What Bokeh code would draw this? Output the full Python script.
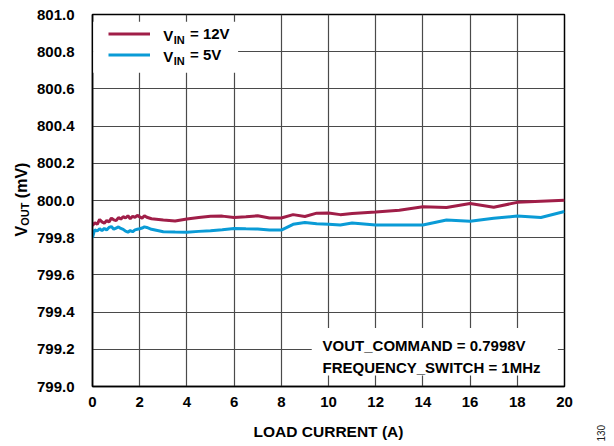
import numpy as np
from bokeh.plotting import figure
from bokeh.layouts import row
from bokeh.models import (FixedTicker, PrintfTickFormatter, Label, BoxAnnotation, Range1d,
                          Legend, LegendItem, Title)
from bokeh.embed import file_html
from bokeh.resources import INLINE

# ---------------- data ----------------
x_12v = [0, 0.1, 0.2, 0.3, 0.4, 0.5, 0.6, 0.7, 0.8, 0.9, 1.0, 1.1, 1.2, 1.3, 1.4, 1.5,
         1.6, 1.7, 1.8, 1.9, 2.0, 2.1, 2.2, 2.3, 2.5, 3.0, 3.5, 4.0, 4.5, 5.0, 5.5, 6.0,
         6.5, 7.0, 7.5, 8.0, 8.5, 9.0, 9.5, 10, 10.5, 11, 12, 13, 14, 15, 16, 17, 18, 19, 20]
v_12v = [799.865, 799.880, 799.872, 799.898, 799.885, 799.878, 799.892, 799.885, 799.905,
         799.896, 799.892, 799.908, 799.900, 799.913, 799.906, 799.918, 799.902, 799.915,
         799.910, 799.920, 799.912, 799.905, 799.918, 799.910, 799.902, 799.895, 799.890,
         799.900, 799.908, 799.915, 799.916, 799.909, 799.913, 799.918, 799.906, 799.906,
         799.924, 799.914, 799.932, 799.933, 799.924, 799.930, 799.938, 799.948, 799.966,
         799.962, 799.984, 799.964, 799.990, 799.996, 800.002]

x_5v = [0, 0.05, 0.1, 0.2, 0.3, 0.4, 0.5, 0.6, 0.7, 0.8, 0.9, 1.0, 1.1, 1.2, 1.3, 1.4, 1.5,
        1.6, 1.7, 1.8, 1.9, 2.0, 2.1, 2.2, 2.3, 2.5, 3.0, 3.5, 4.0, 4.5, 5.0, 5.5, 6.0,
        6.5, 7.0, 7.5, 8.0, 8.5, 9.0, 9.5, 10, 10.5, 11, 12, 13, 14, 15, 16, 17, 18, 19, 20]
v_5v = [799.800, 799.825, 799.842, 799.836, 799.848, 799.838, 799.850, 799.842, 799.855,
        799.860, 799.846, 799.852, 799.858, 799.850, 799.845, 799.835, 799.830, 799.838,
        799.832, 799.842, 799.845, 799.848, 799.852, 799.858, 799.855, 799.845, 799.832,
        799.830, 799.829, 799.834, 799.838, 799.843, 799.850, 799.848, 799.847, 799.841,
        799.841, 799.872, 799.882, 799.875, 799.872, 799.868, 799.879, 799.868, 799.868,
        799.868, 799.895, 799.888, 799.904, 799.917, 799.909, 799.941]

x_ticks = [0, 2, 4, 6, 8, 10, 12, 14, 16, 18, 20]
y_ticks = [799.0, 799.2, 799.4, 799.6, 799.8, 800.0, 800.2, 800.4, 800.6, 800.8, 801.0]

series_labels = ["= 12V", "= 5V"]
note_lines = ["VOUT_COMMAND = 0.7998V", "FREQUENCY_SWITCH = 1MHz"]
x_title = "LOAD CURRENT (A)"
y_title_parts = ["V", "OUT", "(mV)"]
fig_number = "130"

RED = "#A01E48"
BLUE = "#0A9BD6"
FONT = "Liberation Sans"

H = 446
TOP, BOTTOM = 14, 60
LEFT_W = 32
RIGHT_W = 24
MAIN_W = 614 - LEFT_W - RIGHT_W

# ---------------- main figure ----------------
p = figure(width=MAIN_W, height=H, output_backend="svg", toolbar_location=None,
           x_range=Range1d(0, 20), y_range=Range1d(799.0, 801.0),
           min_border_left=60, min_border_right=26, min_border_top=TOP,
           min_border_bottom=BOTTOM)
p.background_fill_color = "white"
p.border_fill_color = "white"
p.outline_line_color = "black"
p.outline_line_width = 1.5

for ax in (p.xaxis[0], p.yaxis[0]):
    ax.major_tick_in = 0
    ax.major_tick_out = 0
    ax.minor_tick_in = 0
    ax.minor_tick_out = 0
    ax.axis_line_color = "black"
    ax.axis_line_width = 1.5
    ax.major_label_text_font = FONT
    ax.major_label_text_font_style = "bold"
    ax.major_label_text_font_size = "15px"
    ax.major_label_text_color = "black"

p.xaxis.ticker = FixedTicker(ticks=x_ticks)
p.yaxis.ticker = FixedTicker(ticks=y_ticks)
p.yaxis.formatter = PrintfTickFormatter(format="%.1f")
p.xaxis.major_label_standoff = 10
p.yaxis.major_label_standoff = 18

p.xaxis.axis_label = x_title
p.xaxis.axis_label_text_font = FONT
p.xaxis.axis_label_text_font_style = "bold"
p.xaxis.axis_label_text_font_size = "15.5px"
p.xaxis.axis_label_text_color = "black"
p.xaxis.axis_label_standoff = 13

p.grid.grid_line_color = "#4a4a4a"
p.grid.grid_line_width = 1.2

r12 = p.line(x_12v, v_12v, line_color=RED, line_width=3)
r5 = p.line(x_5v, v_5v, line_color=BLUE, line_width=3)

# white areas behind legend and note (no border)
p.add_layout(BoxAnnotation(left=0.03, right=6.17, bottom=800.6875, top=800.961,
                           fill_color="white", fill_alpha=1.0, line_color=None))
p.add_layout(BoxAnnotation(left=9.29, right=19.72, bottom=799.059, top=799.315,
                           fill_color="white", fill_alpha=1.0, line_color=None))

legend = Legend(items=[LegendItem(label=series_labels[0], renderers=[r12]),
                       LegendItem(label=series_labels[1], renderers=[r5])],
                location=(16, 323), margin=0, padding=0, spacing=4,
                glyph_width=42, glyph_height=17, label_height=17, label_standoff=40,
                label_text_font=FONT, label_text_font_style="bold",
                label_text_font_size="15px", label_text_color="black",
                background_fill_alpha=0.0, border_line_color=None)
p.add_layout(legend)


def lab(fig, text, x, y, size, xo=0, yo=0, align="left", baseline="middle", angle=0,
        color="black", style="bold"):
    fig.add_layout(Label(x=x, y=y, x_offset=xo, y_offset=yo, text=text,
                         text_font=FONT, text_font_style=style, text_font_size=size,
                         text_align=align, text_baseline=baseline, angle=angle,
                         text_color=color))

# "V_IN" prefixes of legend entries
for ly in [800.894, 800.781]:
    lab(p, "V", 3.0, ly, "15px", yo=-1.5)
    lab(p, "IN", 3.0, ly, "11px", xo=10.5, yo=-6)

# note text
lab(p, note_lines[0], 9.75, 799.22, "15px")
lab(p, note_lines[1], 9.75, 799.104, "15px")

# ---------------- left strip: y-axis title ----------------
left = figure(width=LEFT_W, height=H, output_backend="svg", toolbar_location=None,
              x_range=Range1d(0, LEFT_W), y_range=Range1d(H - BOTTOM, TOP),
              x_axis_location=None, y_axis_location=None,
              min_border_left=0, min_border_right=0, min_border_top=TOP,
              min_border_bottom=BOTTOM)
left.outline_line_color = None
left.grid.visible = False
left.background_fill_color = "white"
left.border_fill_color = "white"
lab(left, y_title_parts[0], 21.0, 230.7, "16px", align="center", angle=np.pi / 2)
lab(left, y_title_parts[1], 24.6, 213.7, "11px", align="center", angle=np.pi / 2)
lab(left, y_title_parts[2], 21.0, 179.9, "16px", align="center", angle=np.pi / 2)

# ---------------- right strip: figure number ----------------
right = figure(width=RIGHT_W, height=H, output_backend="svg", toolbar_location=None,
               x_axis_location=None, y_axis_location=None,
               min_border_left=0, min_border_right=0, min_border_top=TOP,
               min_border_bottom=BOTTOM)
right.outline_line_color = None
right.grid.visible = False
right.background_fill_color = "white"
right.border_fill_color = "white"
right.add_layout(Title(text=fig_number, align="left", offset=-55, vertical_align="middle",
                       text_font=FONT, text_font_size="10px", text_font_style="normal",
                       text_color="#222222", standoff=10), "left")

layout = row(left, p, right)
open("out.html", "w").write(file_html(layout, INLINE))
